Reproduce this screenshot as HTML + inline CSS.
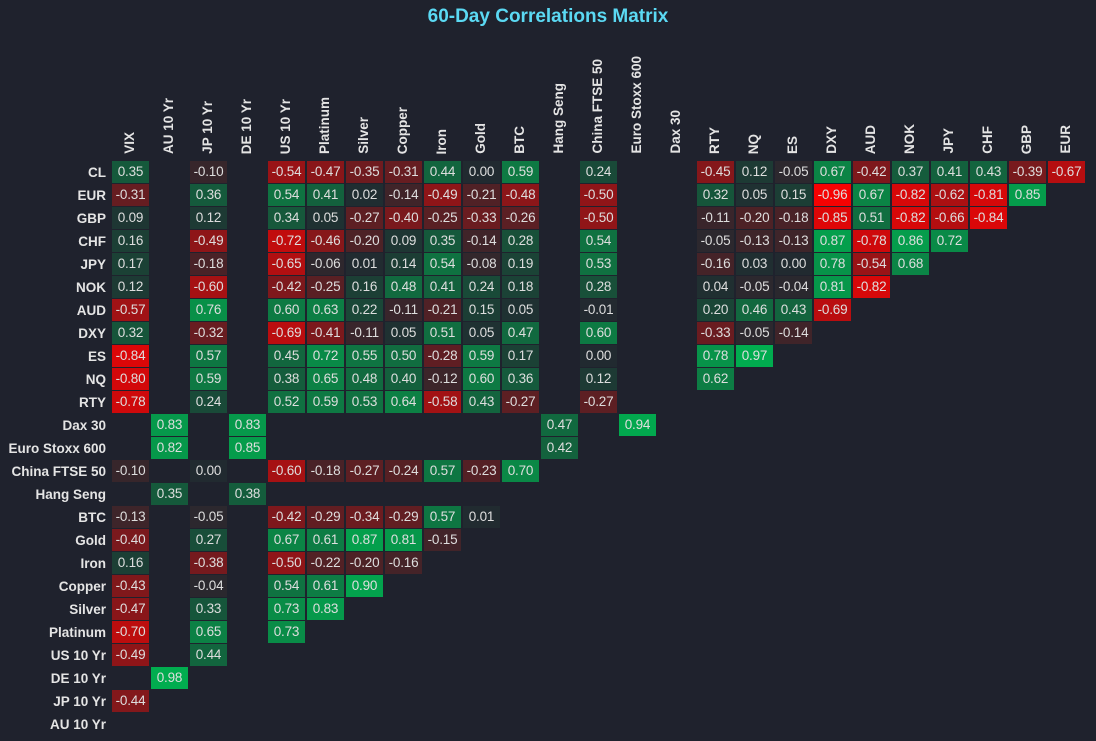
<!DOCTYPE html><html><head><meta charset="utf-8"><style>
body{margin:0;background:#1f222d;width:1096px;height:741px;overflow:hidden;font-family:"Liberation Sans",sans-serif;position:relative}
.t{position:absolute;top:6px;left:0;width:1096px;text-align:center;color:#5bd9f3;font-weight:bold;font-size:19px}
.cols{position:absolute;left:111px;top:0;height:154px;display:flex}
.cols div{width:39px;height:154px;display:flex;justify-content:center;align-items:flex-end}
.cols span{writing-mode:vertical-rl;transform:rotate(180deg);color:#e4e4e4;font-weight:bold;font-size:13.5px;white-space:nowrap;margin-left:-2px}
.rl{position:absolute;left:0;top:161px;width:106px;text-align:right;color:#e4e4e4;font-weight:bold;font-size:13.5px}
.rl div{height:23px;line-height:23px}
.g{position:absolute;left:112px;top:161px}
.r{display:flex;height:23px}
.r i,.r b{width:37px;height:22px;margin-right:2px;font-style:normal;font-weight:normal;color:#dedede;font-size:13.5px;line-height:22px;text-align:center;letter-spacing:-0.2px}
.r b{background:color-mix(in srgb,#00b050 calc(var(--v)*100%),#212a30)}
.r b.n{background:color-mix(in srgb,#ff0000 calc(var(--v)*100%),#212a30)}
</style></head><body>
<div class="t">60-Day Correlations Matrix</div>
<div class="cols"><div><span>VIX</span></div><div><span>AU 10 Yr</span></div><div><span>JP 10 Yr</span></div><div><span>DE 10 Yr</span></div><div><span>US 10 Yr</span></div><div><span>Platinum</span></div><div><span>Silver</span></div><div><span>Copper</span></div><div><span>Iron</span></div><div><span>Gold</span></div><div><span>BTC</span></div><div><span>Hang Seng</span></div><div><span>China FTSE 50</span></div><div><span>Euro Stoxx 600</span></div><div><span>Dax 30</span></div><div><span>RTY</span></div><div><span>NQ</span></div><div><span>ES</span></div><div><span>DXY</span></div><div><span>AUD</span></div><div><span>NOK</span></div><div><span>JPY</span></div><div><span>CHF</span></div><div><span>GBP</span></div><div><span>EUR</span></div></div>
<div class="rl"><div>CL</div><div>EUR</div><div>GBP</div><div>CHF</div><div>JPY</div><div>NOK</div><div>AUD</div><div>DXY</div><div>ES</div><div>NQ</div><div>RTY</div><div>Dax 30</div><div>Euro Stoxx 600</div><div>China FTSE 50</div><div>Hang Seng</div><div>BTC</div><div>Gold</div><div>Iron</div><div>Copper</div><div>Silver</div><div>Platinum</div><div>US 10 Yr</div><div>DE 10 Yr</div><div>JP 10 Yr</div><div>AU 10 Yr</div></div>
<div class="g">
<div class="r"><b style="--v:.35">0.35</b><i></i><b class="n" style="--v:.10">-0.10</b><i></i><b class="n" style="--v:.54">-0.54</b><b class="n" style="--v:.47">-0.47</b><b class="n" style="--v:.35">-0.35</b><b class="n" style="--v:.31">-0.31</b><b style="--v:.44">0.44</b><b style="--v:0">0.00</b><b style="--v:.59">0.59</b><i></i><b style="--v:.24">0.24</b><i></i><i></i><b class="n" style="--v:.45">-0.45</b><b style="--v:.12">0.12</b><b class="n" style="--v:.05">-0.05</b><b style="--v:.67">0.67</b><b class="n" style="--v:.42">-0.42</b><b style="--v:.37">0.37</b><b style="--v:.41">0.41</b><b style="--v:.43">0.43</b><b class="n" style="--v:.39">-0.39</b><b class="n" style="--v:.67">-0.67</b></div>
<div class="r"><b class="n" style="--v:.31">-0.31</b><i></i><b style="--v:.36">0.36</b><i></i><b style="--v:.54">0.54</b><b style="--v:.41">0.41</b><b style="--v:.02">0.02</b><b class="n" style="--v:.14">-0.14</b><b class="n" style="--v:.49">-0.49</b><b class="n" style="--v:.21">-0.21</b><b class="n" style="--v:.48">-0.48</b><i></i><b class="n" style="--v:.50">-0.50</b><i></i><i></i><b style="--v:.32">0.32</b><b style="--v:.05">0.05</b><b style="--v:.15">0.15</b><b class="n" style="--v:.96">-0.96</b><b style="--v:.67">0.67</b><b class="n" style="--v:.82">-0.82</b><b class="n" style="--v:.62">-0.62</b><b class="n" style="--v:.81">-0.81</b><b style="--v:.85">0.85</b></div>
<div class="r"><b style="--v:.09">0.09</b><i></i><b style="--v:.12">0.12</b><i></i><b style="--v:.34">0.34</b><b style="--v:.05">0.05</b><b class="n" style="--v:.27">-0.27</b><b class="n" style="--v:.40">-0.40</b><b class="n" style="--v:.25">-0.25</b><b class="n" style="--v:.33">-0.33</b><b class="n" style="--v:.26">-0.26</b><i></i><b class="n" style="--v:.50">-0.50</b><i></i><i></i><b class="n" style="--v:.11">-0.11</b><b class="n" style="--v:.20">-0.20</b><b class="n" style="--v:.18">-0.18</b><b class="n" style="--v:.85">-0.85</b><b style="--v:.51">0.51</b><b class="n" style="--v:.82">-0.82</b><b class="n" style="--v:.66">-0.66</b><b class="n" style="--v:.84">-0.84</b></div>
<div class="r"><b style="--v:.16">0.16</b><i></i><b class="n" style="--v:.49">-0.49</b><i></i><b class="n" style="--v:.72">-0.72</b><b class="n" style="--v:.46">-0.46</b><b class="n" style="--v:.20">-0.20</b><b style="--v:.09">0.09</b><b style="--v:.35">0.35</b><b class="n" style="--v:.14">-0.14</b><b style="--v:.28">0.28</b><i></i><b style="--v:.54">0.54</b><i></i><i></i><b class="n" style="--v:.05">-0.05</b><b class="n" style="--v:.13">-0.13</b><b class="n" style="--v:.13">-0.13</b><b style="--v:.87">0.87</b><b class="n" style="--v:.78">-0.78</b><b style="--v:.86">0.86</b><b style="--v:.72">0.72</b></div>
<div class="r"><b style="--v:.17">0.17</b><i></i><b class="n" style="--v:.18">-0.18</b><i></i><b class="n" style="--v:.65">-0.65</b><b class="n" style="--v:.06">-0.06</b><b style="--v:.01">0.01</b><b style="--v:.14">0.14</b><b style="--v:.54">0.54</b><b class="n" style="--v:.08">-0.08</b><b style="--v:.19">0.19</b><i></i><b style="--v:.53">0.53</b><i></i><i></i><b class="n" style="--v:.16">-0.16</b><b style="--v:.03">0.03</b><b style="--v:0">0.00</b><b style="--v:.78">0.78</b><b class="n" style="--v:.54">-0.54</b><b style="--v:.68">0.68</b></div>
<div class="r"><b style="--v:.12">0.12</b><i></i><b class="n" style="--v:.60">-0.60</b><i></i><b class="n" style="--v:.42">-0.42</b><b class="n" style="--v:.25">-0.25</b><b style="--v:.16">0.16</b><b style="--v:.48">0.48</b><b style="--v:.41">0.41</b><b style="--v:.24">0.24</b><b style="--v:.18">0.18</b><i></i><b style="--v:.28">0.28</b><i></i><i></i><b style="--v:.04">0.04</b><b class="n" style="--v:.05">-0.05</b><b class="n" style="--v:.04">-0.04</b><b style="--v:.81">0.81</b><b class="n" style="--v:.82">-0.82</b></div>
<div class="r"><b class="n" style="--v:.57">-0.57</b><i></i><b style="--v:.76">0.76</b><i></i><b style="--v:.60">0.60</b><b style="--v:.63">0.63</b><b style="--v:.22">0.22</b><b class="n" style="--v:.11">-0.11</b><b class="n" style="--v:.21">-0.21</b><b style="--v:.15">0.15</b><b style="--v:.05">0.05</b><i></i><b class="n" style="--v:.01">-0.01</b><i></i><i></i><b style="--v:.20">0.20</b><b style="--v:.46">0.46</b><b style="--v:.43">0.43</b><b class="n" style="--v:.69">-0.69</b></div>
<div class="r"><b style="--v:.32">0.32</b><i></i><b class="n" style="--v:.32">-0.32</b><i></i><b class="n" style="--v:.69">-0.69</b><b class="n" style="--v:.41">-0.41</b><b class="n" style="--v:.11">-0.11</b><b style="--v:.05">0.05</b><b style="--v:.51">0.51</b><b style="--v:.05">0.05</b><b style="--v:.47">0.47</b><i></i><b style="--v:.60">0.60</b><i></i><i></i><b class="n" style="--v:.33">-0.33</b><b class="n" style="--v:.05">-0.05</b><b class="n" style="--v:.14">-0.14</b></div>
<div class="r"><b class="n" style="--v:.84">-0.84</b><i></i><b style="--v:.57">0.57</b><i></i><b style="--v:.45">0.45</b><b style="--v:.72">0.72</b><b style="--v:.55">0.55</b><b style="--v:.50">0.50</b><b class="n" style="--v:.28">-0.28</b><b style="--v:.59">0.59</b><b style="--v:.17">0.17</b><i></i><b style="--v:0">0.00</b><i></i><i></i><b style="--v:.78">0.78</b><b style="--v:.97">0.97</b></div>
<div class="r"><b class="n" style="--v:.80">-0.80</b><i></i><b style="--v:.59">0.59</b><i></i><b style="--v:.38">0.38</b><b style="--v:.65">0.65</b><b style="--v:.48">0.48</b><b style="--v:.40">0.40</b><b class="n" style="--v:.12">-0.12</b><b style="--v:.60">0.60</b><b style="--v:.36">0.36</b><i></i><b style="--v:.12">0.12</b><i></i><i></i><b style="--v:.62">0.62</b></div>
<div class="r"><b class="n" style="--v:.78">-0.78</b><i></i><b style="--v:.24">0.24</b><i></i><b style="--v:.52">0.52</b><b style="--v:.59">0.59</b><b style="--v:.53">0.53</b><b style="--v:.64">0.64</b><b class="n" style="--v:.58">-0.58</b><b style="--v:.43">0.43</b><b class="n" style="--v:.27">-0.27</b><i></i><b class="n" style="--v:.27">-0.27</b></div>
<div class="r"><i></i><b style="--v:.83">0.83</b><i></i><b style="--v:.83">0.83</b><i></i><i></i><i></i><i></i><i></i><i></i><i></i><b style="--v:.47">0.47</b><i></i><b style="--v:.94">0.94</b></div>
<div class="r"><i></i><b style="--v:.82">0.82</b><i></i><b style="--v:.85">0.85</b><i></i><i></i><i></i><i></i><i></i><i></i><i></i><b style="--v:.42">0.42</b></div>
<div class="r"><b class="n" style="--v:.10">-0.10</b><i></i><b style="--v:0">0.00</b><i></i><b class="n" style="--v:.60">-0.60</b><b class="n" style="--v:.18">-0.18</b><b class="n" style="--v:.27">-0.27</b><b class="n" style="--v:.24">-0.24</b><b style="--v:.57">0.57</b><b class="n" style="--v:.23">-0.23</b><b style="--v:.70">0.70</b></div>
<div class="r"><i></i><b style="--v:.35">0.35</b><i></i><b style="--v:.38">0.38</b></div>
<div class="r"><b class="n" style="--v:.13">-0.13</b><i></i><b class="n" style="--v:.05">-0.05</b><i></i><b class="n" style="--v:.42">-0.42</b><b class="n" style="--v:.29">-0.29</b><b class="n" style="--v:.34">-0.34</b><b class="n" style="--v:.29">-0.29</b><b style="--v:.57">0.57</b><b style="--v:.01">0.01</b></div>
<div class="r"><b class="n" style="--v:.40">-0.40</b><i></i><b style="--v:.27">0.27</b><i></i><b style="--v:.67">0.67</b><b style="--v:.61">0.61</b><b style="--v:.87">0.87</b><b style="--v:.81">0.81</b><b class="n" style="--v:.15">-0.15</b></div>
<div class="r"><b style="--v:.16">0.16</b><i></i><b class="n" style="--v:.38">-0.38</b><i></i><b class="n" style="--v:.50">-0.50</b><b class="n" style="--v:.22">-0.22</b><b class="n" style="--v:.20">-0.20</b><b class="n" style="--v:.16">-0.16</b></div>
<div class="r"><b class="n" style="--v:.43">-0.43</b><i></i><b class="n" style="--v:.04">-0.04</b><i></i><b style="--v:.54">0.54</b><b style="--v:.61">0.61</b><b style="--v:.90">0.90</b></div>
<div class="r"><b class="n" style="--v:.47">-0.47</b><i></i><b style="--v:.33">0.33</b><i></i><b style="--v:.73">0.73</b><b style="--v:.83">0.83</b></div>
<div class="r"><b class="n" style="--v:.70">-0.70</b><i></i><b style="--v:.65">0.65</b><i></i><b style="--v:.73">0.73</b></div>
<div class="r"><b class="n" style="--v:.49">-0.49</b><i></i><b style="--v:.44">0.44</b></div>
<div class="r"><i></i><b style="--v:.98">0.98</b></div>
<div class="r"><b class="n" style="--v:.44">-0.44</b></div>
<div class="r"></div>
</div>
</body></html>
